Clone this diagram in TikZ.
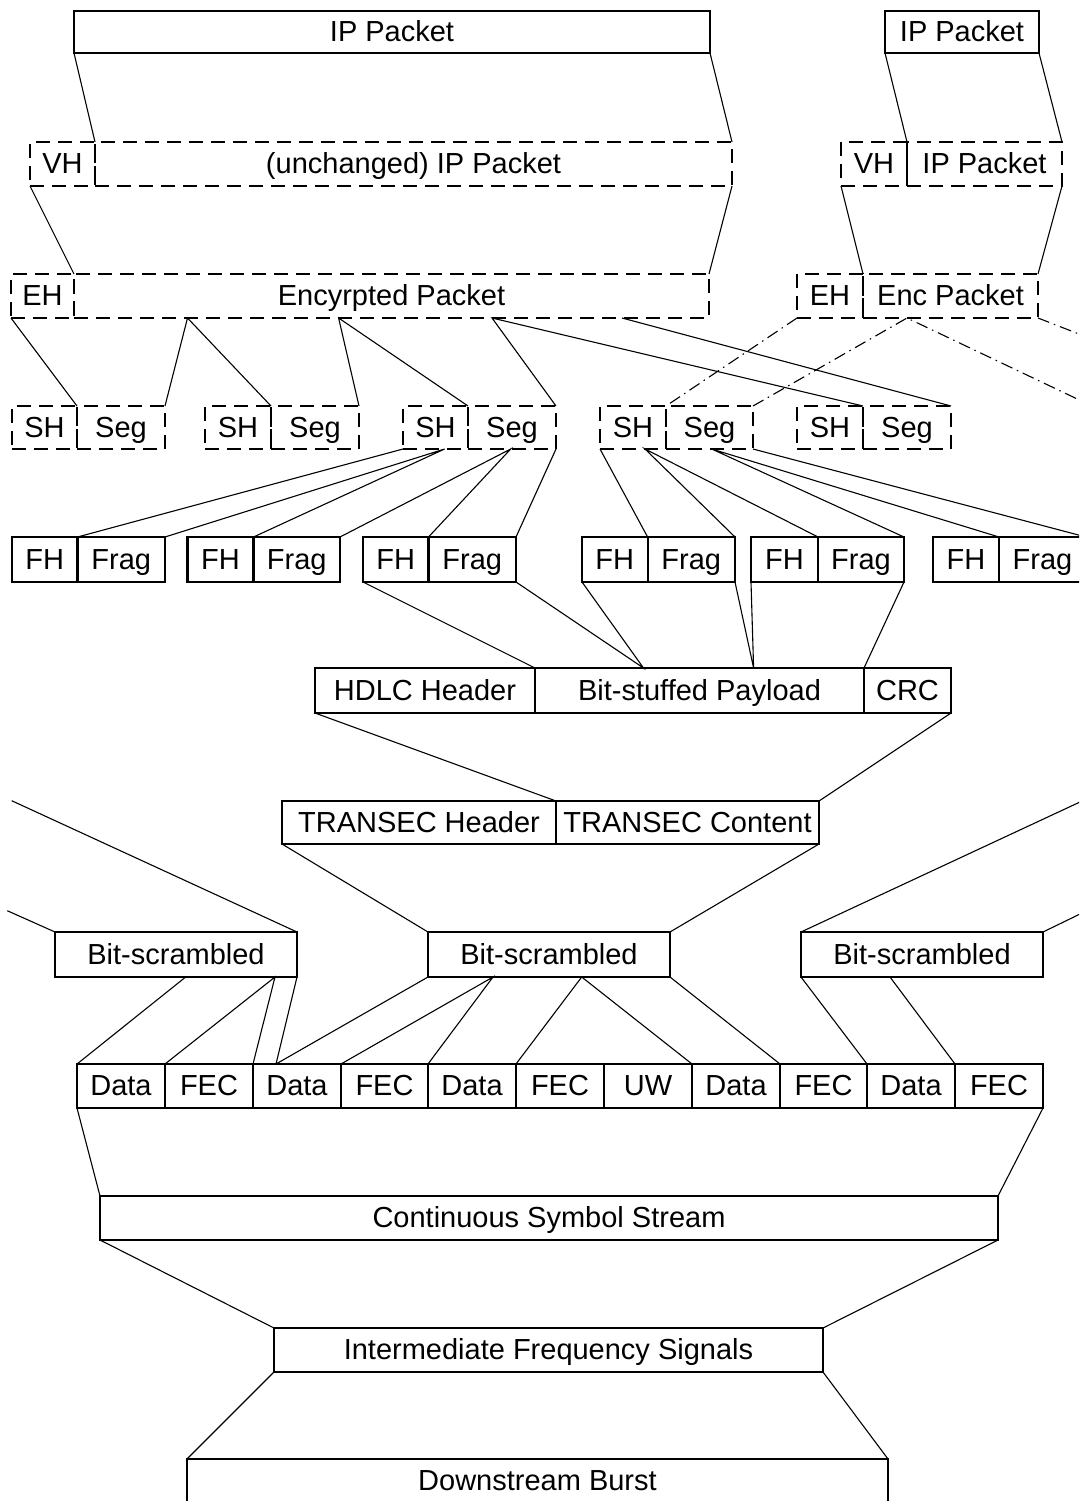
\documentclass[tikz,border=0pt]{standalone}
\usepackage{fontspec}
\setmainfont{Liberation Sans}
\begin{document}
\begin{tikzpicture}[x=1pt,y=-1pt,
  span/.style n args={4}{at={({(#1+#3)/2},{(#2+#4)/2})},
    minimum width={(#3-#1)*1pt},minimum height={(#4-#2)*1pt}},
  cell/.style={draw,line width=2.2pt,inner sep=0pt,outer sep=0pt,
    font=\fontsize{29}{34}\selectfont,text height=19.5pt,text depth=0pt},
  dcell/.style={cell,dash pattern=on 14pt off 8pt},
  link/.style={line width=1.1pt},
  dlink/.style={link,dash pattern=on 12pt off 5pt on 1.5pt off 5pt}]
\useasboundingbox (0,0) rectangle (1079,1501);
\clip (0,0) rectangle (1079,1501);

% IP packets
\node[cell,span={74}{11}{710}{53}] (ipA) {IP Packet};
\node[cell,span={885}{11}{1039}{53}] (ipB) {IP Packet};

% VH + IP packet
\node[dcell,span={30}{142}{95}{186}] (vhA) {VH};
\node[dcell,span={95}{142}{732}{186}] (upA) {(unchanged) IP Packet};
\node[dcell,span={841}{142}{907}{186}] (vhB) {VH};
\node[dcell,span={907}{142}{1062}{186}] (upB) {IP Packet};

% encryption
\node[dcell,span={11}{274}{74}{318}] (ehA) {EH};
\node[dcell,span={74}{274}{709}{318}] (encA) {Encyrpted Packet};
\node[dcell,span={797}{274}{863}{318}] (ehB) {EH};
\node[dcell,span={863}{274}{1038}{318}] (encB) {Enc Packet};

% segments
\node[dcell,span={12}{406}{77}{449}] (sh1) {SH};
\node[dcell,span={77}{406}{165}{449}] (seg1) {Seg};
\node[dcell,span={205}{406}{271}{449}] (sh2) {SH};
\node[dcell,span={271}{406}{359}{449}] (seg2) {Seg};
\node[dcell,span={403}{406}{468}{449}] (sh3) {SH};
\node[dcell,span={468}{406}{556}{449}] (seg3) {Seg};
\node[dcell,span={600}{406}{666}{449}] (sh4) {SH};
\node[dcell,span={666}{406}{753}{449}] (seg4) {Seg};
\node[dcell,span={797}{406}{863}{449}] (sh5) {SH};
\node[dcell,span={863}{406}{951}{449}] (seg5) {Seg};

% fragments
\node[cell,span={12}{537}{77.5}{582}] (fh1) {FH};
\node[cell,span={77.5}{537}{165}{582}] (fr1) {Frag};
\node[cell,span={187.5}{537}{253.5}{582}] (fh2) {FH};
\node[cell,span={253.5}{537}{340}{582}] (fr2) {Frag};
\node[cell,span={363}{537}{428.5}{582}] (fh3) {FH};
\node[cell,span={428.5}{537}{516}{582}] (fr3) {Frag};
\node[cell,span={582}{537}{647.6}{582}] (fh4) {FH};
\node[cell,span={647.6}{537}{735}{582}] (fr4) {Frag};
\node[cell,span={751}{537}{818}{582}] (fh5) {FH};
\node[cell,span={818}{537}{904}{582}] (fr5) {Frag};
\node[cell,span={933}{537}{999}{582}] (fh6) {FH};
\node[cell,span={999}{537}{1086}{582}] (fr6) {Frag};

% HDLC frame
\node[cell,span={315}{668}{535}{713}] (hd) {HDLC Header};
\node[cell,span={535}{668}{864}{713}] (bp) {Bit-stuffed Payload};
\node[cell,span={864}{668}{951}{713}] (crc) {CRC};

% TRANSEC
\node[cell,span={282}{801}{556}{844}] (th) {TRANSEC Header};
\node[cell,span={556}{801}{819}{844}] (tc) {TRANSEC Content};

% scrambled blocks
\node[cell,span={55}{932}{297}{977}] (bs1) {Bit-scrambled};
\node[cell,span={428}{932}{670}{977}] (bs2) {Bit-scrambled};
\node[cell,span={801}{932}{1043}{977}] (bs3) {Bit-scrambled};

% coded blocks
\node[cell,span={77}{1064}{165}{1108}] (d1) {Data};
\node[cell,span={165}{1064}{253}{1108}] (d2) {FEC};
\node[cell,span={253}{1064}{341}{1108}] (d3) {Data};
\node[cell,span={341}{1064}{428}{1108}] (d4) {FEC};
\node[cell,span={428}{1064}{516}{1108}] (d5) {Data};
\node[cell,span={516}{1064}{604}{1108}] (d6) {FEC};
\node[cell,span={604}{1064}{692}{1108}] (d7) {UW};
\node[cell,span={692}{1064}{780}{1108}] (d8) {Data};
\node[cell,span={780}{1064}{867}{1108}] (d9) {FEC};
\node[cell,span={867}{1064}{955}{1108}] (d10) {Data};
\node[cell,span={955}{1064}{1043}{1108}] (d11) {FEC};

% physical layer
\node[cell,span={100}{1196}{998}{1240}] (css) {Continuous Symbol Stream};
\node[cell,span={274}{1328}{823}{1372}] (ifs) {Intermediate Frequency Signals};
\node[cell,span={187}{1459}{888}{1503}] (db) {Downstream Burst};

% free ends of links running off the edge
\coordinate (offA) at (1092,406);
\coordinate (offB) at (1263,406);
\coordinate (offC) at (11.7,800.7);
\coordinate (offD) at (7.3,910.7);
\coordinate (offE) at (1095,795);
\coordinate (offF) at (1095,906.7);

% IP packet -> VH
\draw[link] (ipA.south west) -- (upA.north west);
\draw[link] (ipA.south east) -- (upA.north east);
\draw[link] (ipB.south west) -- (upB.north west);
\draw[link] (ipB.south east) -- (upB.north east);
% VH -> encryption
\draw[link] (vhA.south west) -- (encA.north west);
\draw[link] (upA.south east) -- (encA.north east);
\draw[link] (vhB.south west) -- (encB.north west);
\draw[link] (upB.south east) -- (encB.north east);

% encryption -> segments
\draw[link] (ehA.south west) -- (seg1.north west);
\draw[link] (seg1.north east) -- ([xshift=113.5pt]encA.south west) -- (seg2.north west);
\draw[link] (seg2.north east) -- ([xshift=264.6pt]encA.south west) -- (seg3.north west);
\draw[link] (seg3.north east) -- ([xshift=418pt]encA.south west) -- (seg5.north west);
\draw[link] ([xshift=548pt]encA.south west) -- (seg5.north east);
\draw[dlink] (ehB.south west) -- (seg4.north west);
\draw[dlink] (seg4.north east) -- ([xshift=44pt]encB.south west) -- (offA);
\draw[dlink] (encB.south east) -- (offB);

% segments -> fragments
\draw[link] (sh3.south west) -- (fr1.north west);
\draw[link] (fr1.north east) -- ([xshift=41.6pt]sh3.south west) -- (fr2.north west);
\draw[link] (fr2.north east) -- ([xshift=42.7pt]seg3.south west) -- (fr3.north west);
\draw[link] (seg3.south east) -- (fr3.north east);
\draw[link] (sh4.south west) -- (fr4.north west);
\draw[link] (fr4.north east) -- ([xshift=45pt]sh4.south west) -- (fr5.north west);
\draw[link] (fr5.north east) -- ([xshift=45.7pt]seg4.south west) -- (fr6.north west);
\draw[link] (seg4.south east) -- (fr6.north east);

% fragments -> HDLC
\draw[link] (fh3.south west) -- (bp.north west);
\draw[link] (fr3.south east) -- ([xshift=108.5pt]bp.north west) -- (fh4.south west);
\draw[link] (fr4.south east) -- ([xshift=218.6pt]bp.north west) -- (fh5.south west);
\draw[link] (fr5.south east) -- (bp.north east);

% HDLC -> TRANSEC
\draw[link] (hd.south west) -- (tc.north west);
\draw[link] (crc.south east) -- (tc.north east);

% TRANSEC -> scrambling
\draw[link] (th.south west) -- (bs2.north west);
\draw[link] (tc.south east) -- (bs2.north east);
\draw[link] (offC) -- (bs1.north east);
\draw[link] (offD) -- (bs1.north west);
\draw[link] (bs3.north west) -- (offE);
\draw[link] (bs3.north east) -- (offF);

% scrambling -> coded blocks
\draw[link] ([xshift=130.7pt]bs1.south west) -- (d1.north west);
\draw[link] (d2.north west) -- ([xshift=220pt]bs1.south west) -- (d3.north west);
\draw[link] (bs1.south east) -- ([xshift=23pt]d3.north west) -- (bs2.south west);
\draw[link] (d4.north west) -- ([xshift=65pt]bs2.south west) -- (d5.north west);
\draw[link] (d6.north west) -- ([xshift=153.7pt]bs2.south west) -- (d8.north west);
\draw[link] (bs2.south east) -- (d9.north west);
\draw[link] (bs3.south west) -- (d10.north west);
\draw[link] ([xshift=89pt]bs3.south west) -- (d11.north west);

% coded blocks -> symbol stream -> IF -> burst
\draw[link] (d1.south west) -- (css.north west);
\draw[link] (d11.south east) -- (css.north east);
\draw[link] (css.south west) -- (ifs.north west);
\draw[link] (css.south east) -- (ifs.north east);
\draw[link] (ifs.south west) -- (db.north west);
\draw[link] (ifs.south east) -- (db.north east);
\end{tikzpicture}
\end{document}
